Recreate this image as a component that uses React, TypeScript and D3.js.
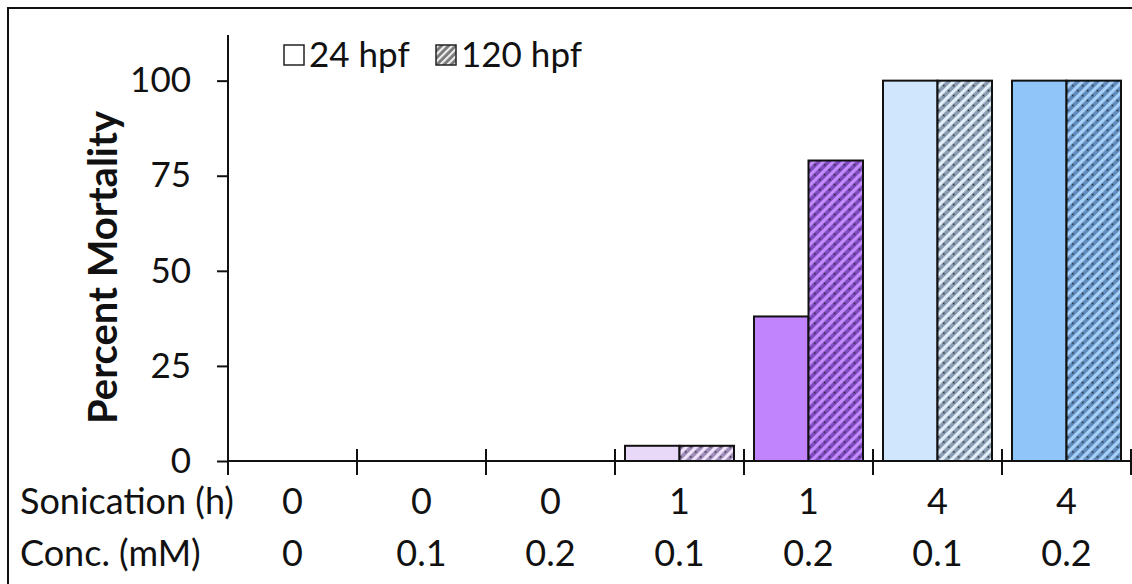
import { useRef, useEffect } from "react";
import { select, scaleBand, scaleLinear, axisLeft } from "d3";

const sonication = ["0", "0", "0", "1", "1", "4", "4"];
const concentration = ["0", "0.1", "0.2", "0.1", "0.2", "0.1", "0.2"];
const mortality24 = [0, 0, 0, 4, 38, 100, 100];
const mortality120 = [0, 0, 0, 4, 79, 100, 100];
const series = ["24 hpf", "120 hpf"];
const yTicks = [0, 25, 50, 75, 100];

// per-category colours: solid fill for 24 hpf, base/highlight for hatched 120 hpf
const solidColors = ["#ffffff", "#ffffff", "#ffffff", "#e8d9f8", "#c184fd", "#cfe6fd", "#8fc5f8"];
const hatchBase = ["#ffffff", "#ffffff", "#ffffff", "#a08cba", "#7e4bbf", "#8a9db2", "#5f8cbd"];
const hatchLight = ["#ffffff", "#ffffff", "#ffffff", "#efe4fb", "#c58cff", "#e2eefa", "#a8d1f9"];

const W = 1132;
const H = 584;
const axisX = 228;
const axisRight = 1131;
const baseY = 461;
const topY = 35;
const FONT = "Lato, 'Open Sans', sans-serif";

export default function App() {
  const svgRef = useRef<SVGSVGElement>(null);

  useEffect(() => {
    const svg = select(svgRef.current);
    svg.selectAll("*").remove();

    const idx = sonication.map((_, i) => String(i));
    const x = scaleBand().domain(idx).range([axisX, axisRight]);
    const xSub = scaleBand().domain(series).range([10, x.bandwidth() - 10]);
    const y = scaleLinear().domain([0, 112]).range([baseY, topY]);

    // hatch patterns
    const defs = svg.append("defs");
    idx.forEach((k, i) => {
      const p = defs.append("pattern")
        .attr("id", `hatch-${k}`)
        .attr("patternUnits", "userSpaceOnUse")
        .attr("width", 7)
        .attr("height", 7)
        .attr("patternTransform", "rotate(-45)");
      p.append("rect").attr("width", 7).attr("height", 7).attr("fill", hatchBase[i]);
      p.append("rect").attr("x", 0).attr("y", 1).attr("width", 7).attr("height", 3.2).attr("fill", hatchLight[i]);
      p.append("circle").attr("cx", 3.5).attr("cy", 5.6).attr("r", 0.9).attr("fill", "#222");
    });
    const lp = defs.append("pattern")
      .attr("id", "hatch-legend")
      .attr("patternUnits", "userSpaceOnUse")
      .attr("width", 5)
      .attr("height", 5)
      .attr("patternTransform", "rotate(-45)");
    lp.append("rect").attr("width", 5).attr("height", 5).attr("fill", "#777");
    lp.append("rect").attr("y", 1).attr("width", 5).attr("height", 2.2).attr("fill", "#eee");

    // frame
    svg.append("rect")
      .attr("x", 8).attr("y", 8)
      .attr("width", W + 20).attr("height", H + 20)
      .attr("fill", "none").attr("stroke", "#111").attr("stroke-width", 2);

    // bars
    const groups = svg.append("g")
      .selectAll("g")
      .data(idx)
      .join("g")
      .attr("transform", (k) => `translate(${x(k)},0)`);

    groups.each(function (k, i) {
      const g = select(this);
      const vals = [mortality24[i], mortality120[i]];
      vals.forEach((v, j) => {
        if (v <= 0) return;
        g.append("rect")
          .attr("x", xSub(series[j])!)
          .attr("y", y(v))
          .attr("width", xSub.bandwidth())
          .attr("height", baseY - y(v))
          .attr("fill", j === 0 ? solidColors[i] : `url(#hatch-${k})`)
          .attr("stroke", "#111")
          .attr("stroke-width", 2);
      });
    });

    // y axis
    const yAxis = svg.append("g")
      .attr("transform", `translate(${axisX},0)`)
      .call(axisLeft(y).tickValues(yTicks).tickSize(11).tickPadding(26));
    yAxis.select(".domain").remove();
    yAxis.append("line")
      .attr("x1", 0).attr("x2", 0).attr("y1", topY).attr("y2", baseY + 12)
      .attr("stroke", "#111").attr("stroke-width", 2);
    yAxis.selectAll(".tick line").attr("stroke", "#111").attr("stroke-width", 2);
    yAxis.selectAll(".tick text")
      .attr("font-family", FONT)
      .attr("font-size", 35)
      .attr("fill", "#111");

    // x axis
    svg.append("line")
      .attr("x1", axisX).attr("x2", axisRight)
      .attr("y1", baseY).attr("y2", baseY)
      .attr("stroke", "#111").attr("stroke-width", 2);
    const edges = idx.map((k) => x(k)!).concat([axisRight]);
    svg.append("g")
      .selectAll("line")
      .data(edges)
      .join("line")
      .attr("x1", (d) => d).attr("x2", (d) => d)
      .attr("y1", baseY - 12).attr("y2", baseY + 14)
      .attr("stroke", "#111").attr("stroke-width", 2);

    // category label rows
    const rows = [
      { label: "Sonication (h)", values: sonication, yPos: 514 },
      { label: "Conc. (mM)", values: concentration, yPos: 566 },
    ];
    rows.forEach((r) => {
      svg.append("text")
        .attr("x", 20).attr("y", r.yPos)
        .attr("font-family", FONT).attr("font-size", 36).attr("fill", "#111")
        .text(r.label);
      svg.append("g")
        .selectAll("text")
        .data(r.values)
        .join("text")
        .attr("x", (_, i) => x(idx[i])! + x.bandwidth() / 2)
        .attr("y", r.yPos)
        .attr("text-anchor", "middle")
        .attr("font-family", FONT).attr("font-size", 36).attr("fill", "#111")
        .text((d) => d);
    });

    // y label
    svg.append("text")
      .attr("transform", `translate(117,${(110 + 425) / 2}) rotate(-90)`)
      .attr("text-anchor", "middle")
      .attr("font-family", FONT)
      .attr("font-weight", "bold")
      .attr("font-size", 40)
      .attr("fill", "#111")
      .text("Percent Mortality");

    // legend
    const legend = svg.append("g");
    const items = [
      { name: series[0], x: 284, fill: "#ffffff" },
      { name: series[1], x: 436, fill: "url(#hatch-legend)" },
    ];
    items.forEach((it) => {
      legend.append("rect")
        .attr("x", it.x).attr("y", 45)
        .attr("width", 20).attr("height", 20)
        .attr("fill", it.fill).attr("stroke", "#222").attr("stroke-width", 1.5);
      legend.append("text")
        .attr("x", it.x + 25).attr("y", 67)
        .attr("font-family", FONT).attr("font-size", 35).attr("fill", "#111")
        .text(it.name);
    });
  }, []);

  return (
    <svg
      ref={svgRef}
      width={W}
      height={H}
      style={{ position: "absolute", left: 0, top: 0, background: "#fff", display: "block" }}
    />
  );
}
